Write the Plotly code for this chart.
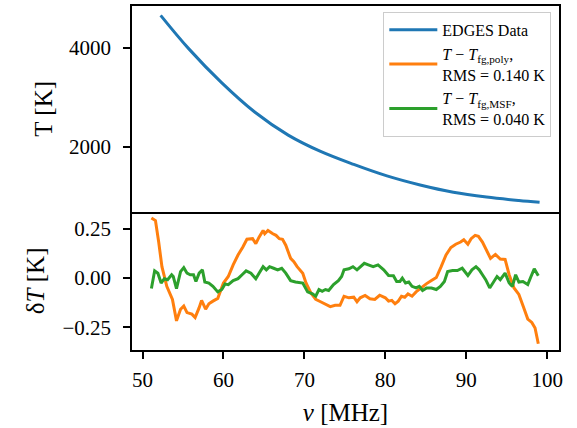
import plotly.graph_objects as go

# Sky temperature spectrum (top panel)
sky_freq = [52.24, 55.7, 59.8, 63.9, 68.0, 72.0, 76.1, 80.2, 84.3, 88.4, 92.5, 96.5, 99.06]
sky_temp = [4661, 3986, 3291, 2695, 2232, 1901, 1637, 1404, 1220, 1073, 975, 905, 868]

# Residuals after subtracting the polynomial foreground fit
poly_freq = [51.1, 51.6, 52.0, 52.4, 53.0, 53.7, 54.2, 54.7, 55.1, 55.5, 56.1, 56.5, 57.0, 57.3,
             57.8, 58.2, 58.7, 59.3, 60.0, 60.6, 61.2, 61.8, 62.4, 62.9, 63.6, 64.0, 64.4, 64.9,
             65.1, 65.5, 66.1, 66.5, 66.9, 67.3, 67.7, 68.3, 68.7, 69.1, 69.8, 70.2, 70.8, 71.4,
             72.0, 72.6, 73.2, 73.8, 74.4, 74.9, 75.5, 76.1, 76.5, 76.9, 77.5, 78.1, 78.7, 79.3,
             80.0, 80.4, 80.8, 81.2, 81.6, 82.0, 82.4, 82.8, 83.3, 83.8, 84.4, 85.1, 85.7, 86.3,
             86.9, 87.5, 88.1, 88.7, 89.3, 89.7, 90.2, 90.6, 91.1, 91.5, 92.0, 92.4, 93.0, 93.6,
             94.2, 94.8, 95.3, 95.9, 96.5, 97.1, 97.6, 98.1, 98.5, 98.9]
poly_resid = [0.305, 0.292, 0.183, 0.058, -0.042, -0.108, -0.217, -0.158, -0.142, -0.175, -0.183,
              -0.200, -0.150, -0.113, -0.158, -0.130, -0.117, -0.103, -0.025, 0.008, 0.067, 0.117,
              0.158, 0.197, 0.200, 0.175, 0.208, 0.242, 0.225, 0.242, 0.225, 0.217, 0.200, 0.197,
              0.167, 0.100, 0.083, 0.058, 0.025, -0.025, -0.075, -0.108, -0.120, -0.133, -0.145,
              -0.138, -0.138, -0.092, -0.100, -0.097, -0.120, -0.100, -0.088, -0.105, -0.108,
              -0.087, -0.100, -0.117, -0.113, -0.130, -0.117, -0.092, -0.097, -0.080, -0.092,
              -0.070, -0.050, -0.028, -0.012, 0.003, 0.058, 0.117, 0.155, 0.172, 0.183, 0.195,
              0.172, 0.200, 0.217, 0.212, 0.183, 0.150, 0.100, 0.120, 0.097, 0.095, 0.017, -0.050,
              -0.083, -0.150, -0.208, -0.225, -0.253, -0.333]

# Residuals after subtracting the maximally smooth foreground fit
msf_freq = [51.1, 51.5, 51.9, 52.3, 52.7, 53.1, 53.6, 53.8, 54.2, 54.7, 55.1, 55.5, 55.9, 56.3,
            56.6, 57.0, 57.4, 57.7, 58.2, 58.7, 59.3, 59.8, 60.2, 60.6, 61.2, 61.8, 62.3, 62.8,
            63.4, 64.0, 64.4, 64.9, 65.3, 65.7, 66.2, 66.7, 67.2, 67.7, 68.3, 68.9, 69.8, 70.4,
            71.0, 71.4, 71.8, 72.2, 72.6, 73.0, 73.6, 74.2, 74.6, 74.9, 75.5, 76.0, 76.5, 76.9,
            77.4, 77.9, 78.5, 79.1, 79.8, 80.4, 81.0, 81.4, 81.8, 82.1, 82.5, 82.9, 83.3, 83.8,
            84.2, 84.6, 85.1, 85.7, 86.3, 86.8, 87.3, 87.7, 88.3, 88.9, 89.5, 90.2, 90.7, 91.2,
            91.6, 92.0, 92.4, 92.9, 93.4, 93.8, 94.2, 94.8, 95.3, 95.7, 96.1, 96.5, 97.0, 97.6,
            98.0, 98.4, 98.9]
msf_resid = [-0.053, 0.037, 0.025, -0.025, -0.003, -0.008, 0.017, 0.008, -0.053, 0.033, 0.053,
             0.025, 0.017, 0.017, -0.017, 0.025, 0.042, -0.020, -0.025, -0.042, -0.070, -0.058,
             -0.030, -0.033, -0.013, -0.003, 0.017, 0.037, 0.025, -0.003, 0.025, 0.058, 0.042,
             0.058, 0.050, 0.042, 0.050, 0.025, -0.013, -0.020, -0.025, -0.070, -0.080, -0.092,
             -0.058, -0.067, -0.058, -0.063, -0.033, -0.013, 0.008, 0.042, 0.047, 0.058, 0.042,
             0.058, 0.075, 0.067, 0.058, 0.067, 0.042, 0.013, 0.012, -0.017, -0.017, 0.000,
             -0.025, -0.020, -0.042, -0.050, -0.042, -0.063, -0.050, -0.050, -0.058, -0.042,
             -0.017, 0.033, 0.038, 0.038, 0.050, 0.013, 0.042, 0.058, 0.042, 0.017, -0.008,
             -0.050, -0.017, 0.008, -0.008, 0.025, -0.025, -0.042, 0.017, -0.020, -0.017, -0.033,
             0.008, 0.047, 0.012]

legend_names = [
    "EDGES Data",
    "<i>T</i> − <i>T</i><sub>fg,poly</sub>,<br>RMS = 0.140 K",
    "<i>T</i> − <i>T</i><sub>fg,MSF</sub>,<br>RMS = 0.040 K",
]
colors = ["#1f77b4", "#ff7f0e", "#2ca02c"]


def padded(lo, hi, frac=0.05):
    span = hi - lo
    return [lo - frac * span, hi + frac * span]


all_freq = poly_freq + msf_freq + sky_freq
x_range = padded(min(all_freq), max(all_freq))
y1_range = padded(min(sky_temp), max(sky_temp))
res_all = poly_resid + msf_resid
y2_range = padded(min(res_all), max(res_all))

FONT = "Liberation Serif"
LW = 3

fig = go.Figure()
fig.add_trace(go.Scatter(x=sky_freq, y=sky_temp, mode="lines", name=legend_names[0],
                         line=dict(color=colors[0], width=LW, shape="spline"),
                         xaxis="x", yaxis="y"))
fig.add_trace(go.Scatter(x=poly_freq, y=poly_resid, mode="lines", name=legend_names[1],
                         line=dict(color=colors[1], width=LW), xaxis="x2", yaxis="y2"))
fig.add_trace(go.Scatter(x=msf_freq, y=msf_resid, mode="lines", name=legend_names[2],
                         line=dict(color=colors[2], width=LW), xaxis="x2", yaxis="y2"))

axis_common = dict(showline=True, linecolor="black", linewidth=1.6, mirror=True,
                   showgrid=False, zeroline=False, ticks="outside", ticklen=7,
                   tickwidth=1.6, tickcolor="black",
                   tickfont=dict(family=FONT, size=21, color="black"))

title_font = dict(family=FONT, size=25, color="black")
split = 0.402
fig.update_layout(
    width=577, height=428,
    margin=dict(l=132, r=18, t=4, b=78),
    paper_bgcolor="white", plot_bgcolor="white",
    font=dict(family=FONT, color="black"),
    showlegend=True,
    legend=dict(x=0.982, y=0.983, xanchor="right", yanchor="top",
                bgcolor="rgba(255,255,255,0.8)", bordercolor="#cccccc", borderwidth=1,
                itemwidth=48,
                font=dict(family=FONT, size=16, color="black")),
    xaxis=dict(axis_common, domain=[0, 1], anchor="y", range=x_range,
               showticklabels=False, ticks="", matches="x2"),
    yaxis=dict(axis_common, domain=[split, 1], anchor="x", range=y1_range,
               tickvals=[2000, 4000], ticklabelstandoff=8,
               title=dict(text="T [K]", font=title_font, standoff=9)),
    xaxis2=dict(axis_common, domain=[0, 1], anchor="y2", range=x_range, mirror=False,
                tickvals=[50, 60, 70, 80, 90, 100], ticklabelstandoff=3,
                title=dict(text="<i>ν</i> [MHz]", font=title_font, standoff=12)),
    yaxis2=dict(axis_common, domain=[0, split], anchor="x2", range=y2_range,
                tickvals=[-0.25, 0.0, 0.25], tickformat=".2f", ticklabelstandoff=8,
                title=dict(text="δ<i>T</i> [K]", font=title_font, standoff=11)),
)

fig.write_html("out.html")
